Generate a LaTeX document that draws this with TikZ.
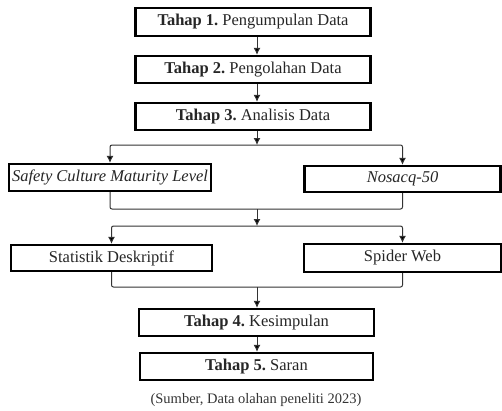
\documentclass[tikz,border=0pt]{standalone}
\usepackage{fontspec}
\setmainfont{Liberation Serif}
\usetikzlibrary{arrows.meta}
\frenchspacing
\begin{document}
\begin{tikzpicture}[x=1pt,y=-1pt,
  box/.style={draw=black,line width=2.3pt,fill=white,inner sep=0pt,
    font=\fontsize{16.5}{19}\selectfont,text=black!85},
  conn/.style={draw=black!80,line width=1pt,rounded corners=2pt},
  arr/.style={conn,-{Latex[length=7pt,width=7pt,fill=black]}}]
\useasboundingbox (0,0) rectangle (502,410);
\coordinate (spine) at (257,0);
\node[box,minimum width=235pt,minimum height=28pt] (b1) at (253,22) {\textbf{Tahap 1.} Pengumpulan Data};
\node[box,minimum width=235pt,minimum height=27pt] (b2) at (253,69.5) {\textbf{Tahap 2.} Pengolahan Data};
\node[box,minimum width=235pt,minimum height=27pt] (b3) at (253,116.5) {\textbf{Tahap 3.} Analisis Data};
\node[box,minimum width=202pt,minimum height=27pt] (scml) at (110,177.5) {\textit{Safety Culture Maturity Level}};
\node[box,minimum width=196pt,minimum height=26pt] (nos) at (402.5,179) {\textit{Nosacq-50}};
\node[box,minimum width=201pt,minimum height=26pt] (stat) at (111.5,258) {Statistik Deskriptif};
\node[box,minimum width=197pt,minimum height=28pt] (spi) at (402.5,258) {Spider Web};
\node[box,minimum width=235pt,minimum height=27pt] (b4) at (256.5,322.5) {\textbf{Tahap 4.} Kesimpulan};
\node[box,minimum width=233pt,minimum height=27pt] (b5) at (256.5,366.5) {\textbf{Tahap 5.} Saran};
\node[font=\fontsize{14.5}{17}\selectfont,text=black!80] (cap) at (256,400) {(Sumber, Data olahan peneliti 2023)};
\coordinate (j1) at (257,145);
\coordinate (j2) at (257,209);
\coordinate (j3) at (257,226);
\coordinate (j4) at (257,287);
\draw[arr] (b1.south -| spine) -- (b2.north -| spine);
\draw[arr] (b2.south -| spine) -- (b3.north -| spine);
\draw[arr] (b3.south -| spine) -- (j1);
\draw[arr] (j1) -| (scml.north);
\draw[arr] (j1) -| (nos.north);
\draw[conn] (scml.south) |- (j2) -| (nos.south);
\draw[arr] (j2) -- (j3);
\draw[arr] (j3) -| (stat.north);
\draw[arr] (j3) -| (spi.north);
\draw[conn] (stat.south) |- (j4) -| (spi.south);
\draw[arr] (j4) -- (b4.north -| spine);
\draw[arr] (b4.south -| spine) -- (b5.north -| spine);
\end{tikzpicture}
\end{document}
